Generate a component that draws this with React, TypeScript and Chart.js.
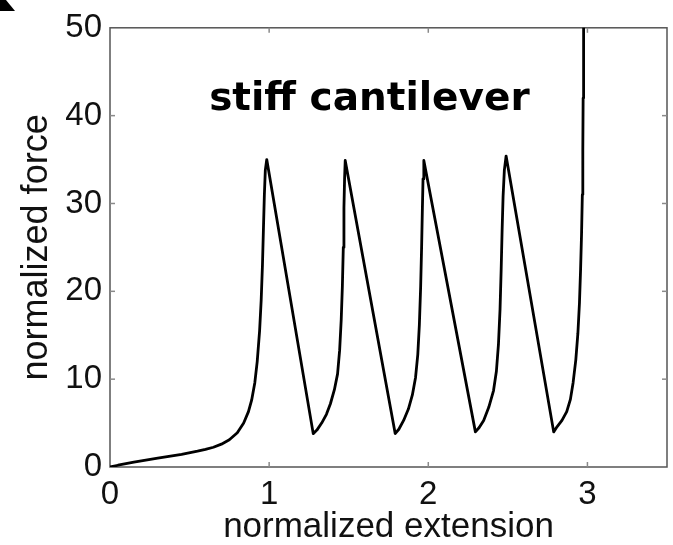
import React, { useEffect, useRef } from "react";
import { Chart, registerables } from "chart.js";

Chart.register(...registerables);

// ---- data ----
const extension = [
  0, 0.05, 0.15, 0.3, 0.45, 0.55, 0.6, 0.65, 0.7, 0.75, 0.8, 0.84, 0.87, 0.89, 0.91, 0.925, 0.94, 0.95, 0.958, 0.964, 0.97, 0.976, 0.985,
  1.277, 1.3, 1.33, 1.36, 1.385, 1.41, 1.43, 1.443, 1.453, 1.46, 1.466, 1.47, 1.474, 1.478,
  1.792, 1.815, 1.845, 1.875, 1.9, 1.92, 1.934, 1.944, 1.952, 1.958, 1.963, 1.967, 1.972,
  2.296, 2.32, 2.348, 2.38, 2.41, 2.428, 2.441, 2.451, 2.458, 2.464, 2.47, 2.478, 2.489,
  2.788, 2.81, 2.84, 2.87, 2.893, 2.91, 2.927, 2.94, 2.95, 2.957, 2.963, 2.968, 2.971, 2.973, 2.975, 2.977,
];
const force = [
  0, 0.2, 0.55, 1.0, 1.45, 1.8, 2.0, 2.25, 2.6, 3.1, 3.9, 5.0, 6.3, 7.6, 9.6, 12, 15.5, 19, 23, 27, 31, 33.8, 35.0,
  3.8, 4.2, 5.0, 6.0, 7.2, 8.8, 10.6, 13.3, 16.8, 20.5, 25, 29.5, 32.8, 34.9,
  3.8, 4.3, 5.3, 6.6, 8.2, 10.2, 12.8, 16.2, 20.5, 25, 29.5, 32.8, 34.9,
  4.0, 4.5, 5.3, 6.8, 8.7, 10.9, 14, 18, 22.5, 27, 30.8, 33.8, 35.4,
  4.0, 4.6, 5.3, 6.3, 7.7, 9.6, 12.2, 15.2, 18.7, 22.5, 26.5, 31, 36, 42, 50, 56,
];
const xTickValues = [0, 1, 2, 3];
const yTickValues = [0, 10, 20, 30, 40, 50];
const xMin = 0;
const xMax = 3.5;
const yMin = 0;
const yMax = 50;
const chartTitle = "stiff cantilever";
const xTitle = "normalized extension";
const yTitle = "normalized force";

const W = 673;
const H = 545;

const framePlugin = {
  id: "frame",
  beforeDatasetsDraw(chart: any) {
    const { ctx, chartArea: a, scales } = chart;
    const xs = scales.x;
    const ys = scales.y;
    ctx.save();
    ctx.strokeStyle = "#555";
    ctx.lineWidth = 1.5;
    ctx.strokeRect(a.left, a.top, a.right - a.left, a.bottom - a.top);
    ctx.strokeStyle = "#8a8a8a";
    ctx.lineWidth = 1.5;
    const tl = 5;
    const seg = (x1: number, y1: number, x2: number, y2: number) => {
      ctx.beginPath();
      ctx.moveTo(x1, y1);
      ctx.lineTo(x2, y2);
      ctx.stroke();
    };
    xs.ticks.forEach((t: any) => {
      const px = xs.getPixelForValue(t.value);
      if (px <= a.left + 1 || px >= a.right - 1) return;
      seg(px, a.bottom, px, a.bottom - tl);
      seg(px, a.top, px, a.top + tl);
    });
    ys.ticks.forEach((t: any) => {
      const py = ys.getPixelForValue(t.value);
      if (py <= a.top + 1 || py >= a.bottom - 1) return;
      seg(a.left, py, a.left + tl, py);
      seg(a.right, py, a.right - tl, py);
    });
    ctx.restore();
  },
  afterDraw(chart: any) {
    const { ctx, scales } = chart;
    const xs = scales.x;
    const ys = scales.y;
    ctx.save();
    ctx.fillStyle = "#000";
    ctx.font = "bold 39px 'DejaVu Sans'";
    ctx.textAlign = "center";
    ctx.textBaseline = "alphabetic";
    ctx.fillText(chartTitle, xs.getPixelForValue(1.63), ys.getPixelForValue(40.6));
    // clipped panel-letter fragment in the top-left corner
    ctx.beginPath();
    ctx.moveTo(0, 0);
    ctx.lineTo(6, 0);
    ctx.lineTo(15, 11);
    ctx.lineTo(0, 11);
    ctx.closePath();
    ctx.fill();
    ctx.restore();
  },
};

export default function App() {
  const ref = useRef<HTMLCanvasElement | null>(null);
  useEffect(() => {
    if (!ref.current) return;
    const points = extension.map((x, i) => ({ x, y: force[i] }));
    const chart = new Chart(ref.current, {
      type: "line",
      data: {
        datasets: [
          {
            data: points,
            borderColor: "#000",
            borderWidth: 2.8,
            borderJoinStyle: "round",
            pointRadius: 0,
            tension: 0,
            fill: false,
          },
        ],
      },
      options: {
        responsive: false,
        animation: false,
        parsing: false as any,
        layout: { padding: { top: 24, right: 6, left: 0, bottom: 0 } },
        plugins: {
          legend: { display: false },
          tooltip: { enabled: false },
          title: { display: false },
        },
        scales: {
          x: {
            type: "linear",
            min: xMin,
            max: xMax,
            afterBuildTicks: (s: any) => {
              s.ticks = xTickValues.map((v) => ({ value: v }));
            },
            afterFit: (s: any) => {
              s.height = 78;
            },
            grid: { display: false, drawTicks: false },
            border: { display: false },
            ticks: {
              autoSkip: false,
              maxRotation: 0,
              padding: 8,
              color: "#111",
              font: { family: "'Liberation Sans', Arial, sans-serif", size: 33 },
            },
            title: {
              display: true,
              text: xTitle,
              color: "#111",
              padding: { top: 0, bottom: 0 },
              font: { family: "'Liberation Sans', Arial, sans-serif", size: 35, lineHeight: 1 },
            },
          },
          y: {
            type: "linear",
            min: yMin,
            max: yMax,
            afterBuildTicks: (s: any) => {
              s.ticks = yTickValues.map((v) => ({ value: v }));
            },
            afterFit: (s: any) => {
              s.width = 110;
            },
            grid: { display: false, drawTicks: false },
            border: { display: false },
            ticks: {
              autoSkip: false,
              padding: 8,
              color: "#111",
              font: { family: "'Liberation Sans', Arial, sans-serif", size: 33 },
            },
            title: {
              display: true,
              text: yTitle,
              color: "#111",
              padding: { top: 19, bottom: 0 },
              font: { family: "'Liberation Sans', Arial, sans-serif", size: 36, lineHeight: 1 },
            },
          },
        },
      },
      plugins: [framePlugin],
    });
    return () => chart.destroy();
  }, []);
  return (
    <div style={{ position: "fixed", left: 0, top: 0, width: W, height: H, background: "#fff" }}>
      <canvas ref={ref} width={W} height={H} style={{ width: W, height: H, display: "block" }} />
    </div>
  );
}
